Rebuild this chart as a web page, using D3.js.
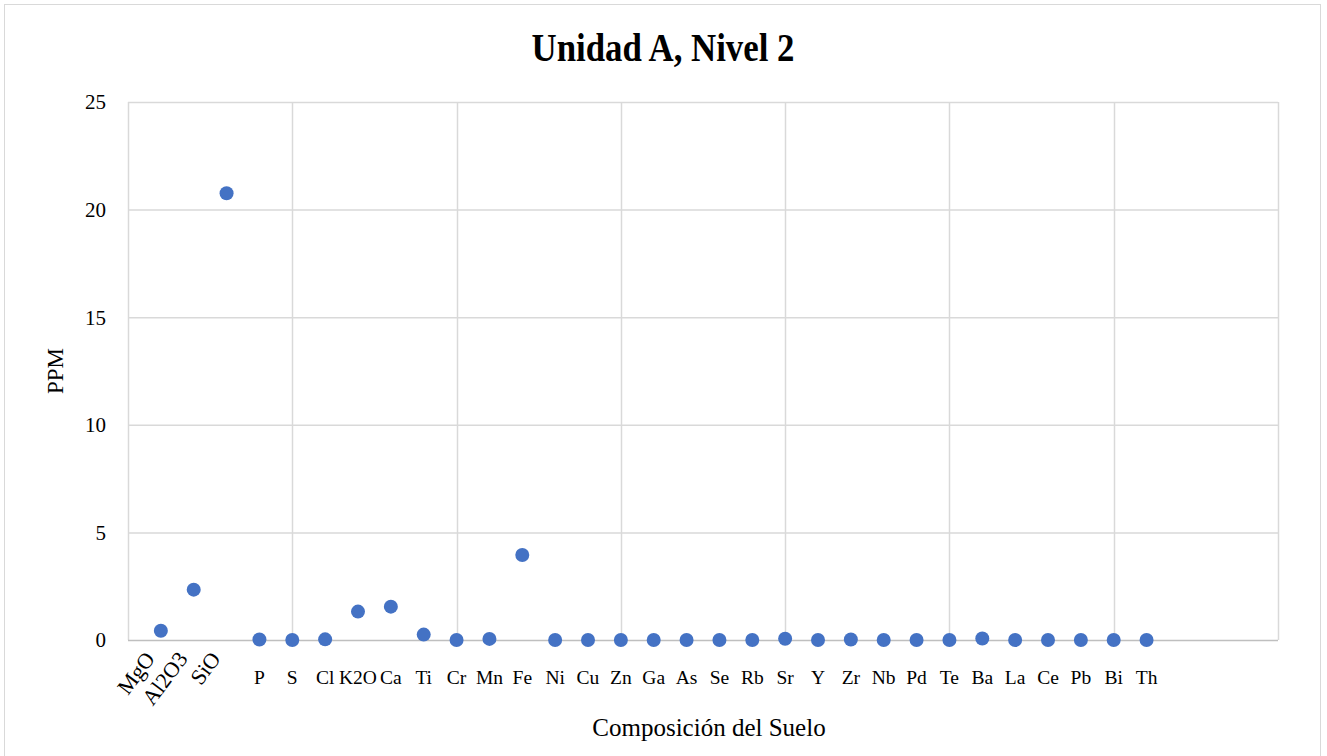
<!DOCTYPE html>
<html>
<head>
<meta charset="utf-8">
<script src="https://cdn.jsdelivr.net/npm/d3@7"></script>
<style>
  html, body { margin: 0; padding: 0; background: #fff; }
  svg text { font-family: "Liberation Serif", "DejaVu Serif", serif; fill: #000; }
</style>
</head>
<body>
<svg id="chart" width="1327" height="756"></svg>
<script>
// Soil composition, Unidad A, Nivel 2
const elements = ["MgO","Al2O3","SiO","P","S","Cl","K2O","Ca","Ti","Cr","Mn","Fe","Ni","Cu","Zn","Ga","As","Se","Rb","Sr","Y","Zr","Nb","Pd","Te","Ba","La","Ce","Pb","Bi","Th"];
const ppm = [0.43, 2.34, 20.76, 0.02, 0.0, 0.03, 1.32, 1.55, 0.25, 0.0, 0.05, 3.95, 0.0, 0.0, 0.0, 0.0, 0.0, 0.0, 0.0, 0.06, 0.0, 0.02, 0.0, 0.0, 0.0, 0.07, 0.0, 0.0, 0.0, 0.0, 0.0];
const rotatedLabels = ["MgO","Al2O3","SiO"];
const yTicks = [0, 5, 10, 15, 20, 25];
const xGrid = [0, 5, 10, 15, 20, 25, 30, 35];

const svg = d3.select("#chart");
const margin = {left: 128, right: 49, top: 102, bottom: 116};
const W = 1327, H = 756;

// outer chart frame
svg.append("rect").attr("x", 4.5).attr("y", 4.5).attr("width", 1316).attr("height", 760)
  .attr("fill", "#fff").attr("stroke", "#d9d9d9").attr("stroke-width", 1);

const x = d3.scaleLinear().domain([0, 35]).range([margin.left, W - margin.right]);
const y = d3.scaleLinear().domain([0, 25]).range([H - margin.bottom, margin.top]);

// gridlines
svg.append("g").selectAll("line.h").data(yTicks.filter(d => d > 0)).join("line")
  .attr("x1", x(0)).attr("x2", x(35))
  .attr("y1", d => y(d) + 0.5).attr("y2", d => y(d) + 0.5)
  .attr("stroke", "#d9d9d9").attr("stroke-width", 1.5);
svg.append("g").selectAll("line.v").data(xGrid).join("line")
  .attr("x1", d => Math.round(x(d)) + 0.5).attr("x2", d => Math.round(x(d)) + 0.5)
  .attr("y1", y(25)).attr("y2", y(0))
  .attr("stroke", "#d9d9d9").attr("stroke-width", 1.5);

// baseline axis
svg.append("line").attr("x1", x(0)).attr("x2", x(35))
  .attr("y1", y(0) + 0.5).attr("y2", y(0) + 0.5)
  .attr("stroke", "#bfbfbf").attr("stroke-width", 1.5);

// y tick labels
svg.append("g").selectAll("text").data(yTicks).join("text")
  .attr("x", 106).attr("y", d => y(d)).attr("dy", "0.35em")
  .attr("text-anchor", "end").attr("font-size", 21)
  .text(d => d);

// x category labels
const xl = svg.append("g");
elements.forEach((name, i) => {
  const cx = x(i + 1);
  if (rotatedLabels.includes(name)) {
    xl.append("text")
      .attr("transform", `translate(${cx - 5},${659}) rotate(-53)`)
      .attr("text-anchor", "end").attr("font-size", 22)
      .text(name);
  } else {
    xl.append("text")
      .attr("x", cx).attr("y", 684)
      .attr("text-anchor", "middle").attr("font-size", 19.5)
      .text(name);
  }
});

// data points
svg.append("g").selectAll("circle").data(ppm).join("circle")
  .attr("cx", (d, i) => x(i + 1)).attr("cy", d => y(d))
  .attr("r", 7).attr("fill", "#4472c4");

// title
svg.append("text").attr("x", 663).attr("y", 61)
  .attr("text-anchor", "middle").attr("font-size", 40).attr("font-weight", "bold")
  .attr("transform", "translate(663,0) scale(0.87,1) translate(-663,0)")
  .text("Unidad A, Nivel 2");

// axis titles
svg.append("text").attr("transform", `translate(63,${(y(0) + y(25)) / 2}) rotate(-90)`)
  .attr("text-anchor", "middle").attr("font-size", 23).text("PPM");
svg.append("text").attr("x", 709).attr("y", 736)
  .attr("text-anchor", "middle").attr("font-size", 25).text("Composición del Suelo");
</script>
</body>
</html>
